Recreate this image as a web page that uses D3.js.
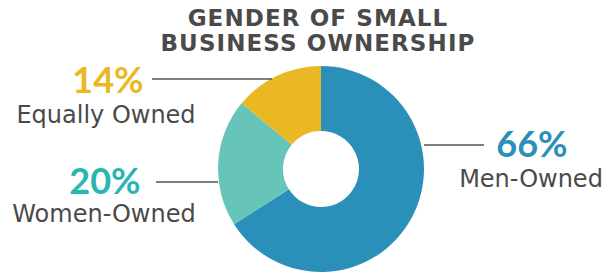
<!DOCTYPE html>
<html><head><meta charset="utf-8">
<script src="https://cdn.jsdelivr.net/npm/d3@7"></script>
<style>body{margin:0;background:#fff}svg{display:block}</style>
</head><body>
<svg id="c" width="605" height="276"></svg>
<script>
const categories = ["Men-Owned", "Women-Owned", "Equally Owned"];
const values = [66, 20, 14];
const pctLabels = ["66%", "20%", "14%"];
const titleLines = ["GENDER OF SMALL", "BUSINESS OWNERSHIP"];

const colors = ["#2b90b9", "#66c4b9", "#e9b822"];
const pctColors = ["#2b90b9", "#2bb5b1", "#e9b822"];
const svg = d3.select("#c");
const cx = 321, cy = 169, R = 103, r = 38;

svg.selectAll("text.title").data(titleLines).join("text")
  .attr("class","title")
  .attr("x", 318).attr("y", (d,i)=>26+i*25)
  .attr("text-anchor","middle")
  .attr("font-family","DejaVu Sans").attr("font-weight","bold")
  .attr("letter-spacing",1.1)
  .attr("font-size",23).attr("fill","#4a4a4a").text(d=>d);

const pie = d3.pie().sort(null)(values);
const arc = d3.arc().innerRadius(r).outerRadius(R);
const g = svg.append("g").attr("transform",`translate(${cx},${cy})`);
g.selectAll("path").data(pie).join("path").attr("d",arc).attr("fill",(d,i)=>colors[i]);

const lbl = [
  {line:[424,484,145], px:532, py:157, lx:531, ly:187},
  {line:[156,218,182], px:105, py:194, lx:104, ly:222},
  {line:[152,272,79], px:108, py:93, lx:106, ly:123}
];
lbl.forEach((L,i)=>{
  svg.append("line").attr("x1",L.line[0]).attr("x2",L.line[1]).attr("y1",L.line[2]).attr("y2",L.line[2])
    .attr("stroke","#555").attr("stroke-width",1.5);
  svg.append("text").attr("x",L.px).attr("y",L.py).attr("text-anchor","middle")
    .attr("font-family","Lato").attr("font-weight","bold").attr("font-size",36)
    .attr("fill",pctColors[i]).text(pctLabels[i]);
  svg.append("text").attr("x",L.lx).attr("y",L.ly).attr("text-anchor","middle")
    .attr("font-family","DejaVu Sans").attr("font-size",24)
    .attr("fill","#4a4a4a").text(categories[i]);
});
</script>
</body></html>
